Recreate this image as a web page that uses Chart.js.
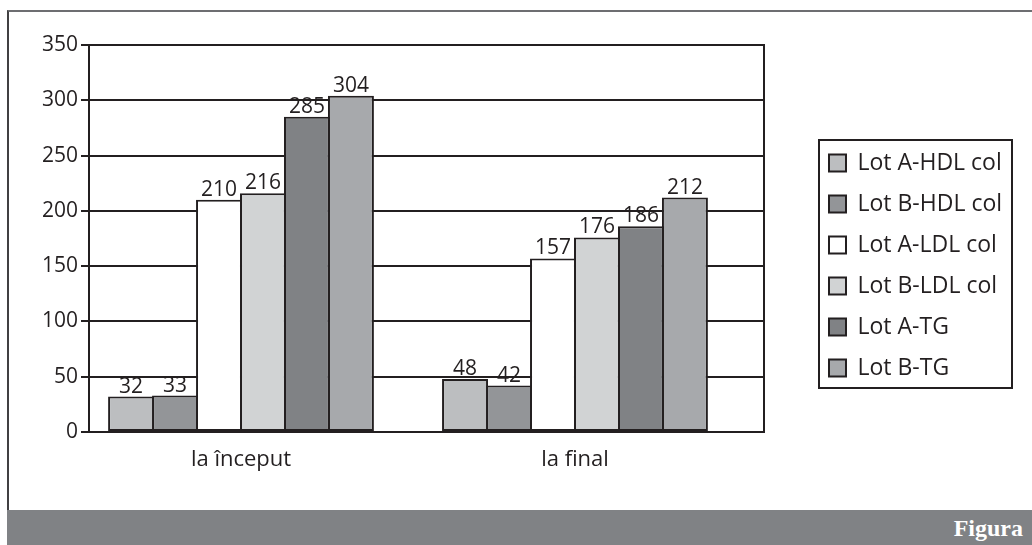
<!DOCTYPE html>
<html>
<head>
<meta charset="utf-8">
<script src="https://cdn.jsdelivr.net/npm/chart.js@4.4.1/dist/chart.umd.min.js"></script>
<style>
  html, body { margin: 0; padding: 0; background: #ffffff; overflow: hidden; }
  body { width: 1032px; height: 545px; position: relative; }
  #frame { position: absolute; left: 7px; top: 10px; width: 1040px; height: 498px;
           border-left: 2px solid #414042; border-top: 2px solid #6d6e71; border-bottom: 2px solid #231f20; }
  #band { position: absolute; left: 7px; top: 510px; width: 1025px; height: 35px; background: #808285;
          color: #ffffff; font-family: "Liberation Serif", serif; font-weight: bold; font-size: 24px;
          line-height: 35px; text-align: right; box-sizing: border-box; padding-right: 9px; padding-top: 1px; }
  #wrap { position: absolute; left: 0; top: 0; width: 1032px; height: 505px; }
</style>
</head>
<body>
<div id="frame"></div>
<div id="band">Figura</div>
<div id="wrap"><canvas id="c" width="1032" height="505"></canvas></div>
<script>
// ---- data ----
const categories = ["la început", "la final"];
const seriesNames = ["Lot A-HDL col", "Lot B-HDL col", "Lot A-LDL col", "Lot B-LDL col", "Lot A-TG", "Lot B-TG"];
const lotA_HDL = [32, 48];
const lotB_HDL = [33, 42];
const lotA_LDL = [210, 157];
const lotB_LDL = [216, 176];
const lotA_TG  = [285, 186];
const lotB_TG  = [304, 212];
const yTicks = [0, 50, 100, 150, 200, 250, 300, 350];

const seriesValues = [lotA_HDL, lotB_HDL, lotA_LDL, lotB_LDL, lotA_TG, lotB_TG];
const seriesColors = ["#bcbec0", "#939598", "#ffffff", "#d1d3d4", "#808285", "#a7a9ac"];
const INK = "#231f20";
const FONT = '"Open Sans", "DejaVu Sans", sans-serif';

const datasets = seriesNames.map((name, s) => ({
  label: name,
  data: seriesValues[s].map((v, i) => ({ x: i, y: v })),
  backgroundColor: seriesColors[s],
  borderColor: INK,
  borderWidth: 2,
  borderSkipped: false,
  categoryPercentage: 0.79,
  barPercentage: 1.045
}));

const valueLabels = {
  id: 'valueLabels',
  afterDatasetsDraw(chart) {
    const ctx = chart.ctx;
    ctx.save();
    ctx.font = '21px ' + FONT;
    ctx.fillStyle = INK;
    ctx.textAlign = 'center';
    ctx.textBaseline = 'alphabetic';
    chart.data.datasets.forEach((ds, i) => {
      const meta = chart.getDatasetMeta(i);
      meta.data.forEach((el, j) => {
        ctx.fillText(String(ds.data[j].y), el.x, el.y - 4);
      });
    });
    ctx.restore();
  }
};

const legendFrame = {
  id: 'legendFrame',
  beforeLayout(chart) {
    const lg = chart.legend;
    if (lg && !lg._fixedW) {
      const orig = lg.fit.bind(lg);
      lg.fit = function () { orig(); this.width = 221; };
      lg._fixedW = true;
    }
  },
  afterDraw(chart) {
    const lg = chart.legend;
    if (!lg) return;
    const ctx = chart.ctx;
    const cy = (lg.top + lg.bottom) / 2;
    ctx.save();
    ctx.strokeStyle = INK;
    ctx.lineWidth = 2;
    ctx.strokeRect(lg.left + 8, cy - 125.5, 193, 248);
    ctx.restore();
  }
};

new Chart(document.getElementById('c'), {
  type: 'bar',
  data: { datasets },
  plugins: [valueLabels, legendFrame],
  options: {
    responsive: false,
    animation: false,
    devicePixelRatio: 1,
    layout: { padding: { top: 45, left: 0, right: 0, bottom: 19 } },
    plugins: {
      tooltip: { enabled: false },
      legend: {
        position: 'right',
        labels: {
          font: { family: FONT, size: 23 },
          color: INK,
          boxWidth: 17,
          boxHeight: 17,
          padding: 18
        }
      }
    },
    scales: {
      x: {
        type: 'linear',
        min: -0.4551,
        max: 1.5659,
        offset: false,
        afterBuildTicks(scale) { scale.ticks = categories.map((c, i) => ({ value: i })); },
        afterFit(scale) { scale.height = 54; },
        ticks: {
          font: { family: FONT, size: 22 },
          color: INK,
          padding: 15,
          maxRotation: 0,
          callback: (v) => categories[v]
        },
        grid: { drawOnChartArea: false, drawTicks: false },
        border: { display: true, color: INK, width: 2 }
      },
      y: {
        min: 0,
        max: 350,
        afterBuildTicks(scale) { scale.ticks = yTicks.map(v => ({ value: v })); },
        afterFit(scale) { scale.width = 89; },
        ticks: { font: { family: FONT, size: 21 }, color: INK, padding: 3 },
        grid: { color: INK, lineWidth: 2, tickLength: 8, drawTicks: true },
        border: { display: true, color: INK, width: 2 }
      },
      y2: {
        position: 'right',
        display: true,
        afterFit(scale) { scale.width = 47; },
        ticks: { display: false },
        grid: { drawOnChartArea: false, drawTicks: false },
        border: { display: true, color: INK, width: 2 }
      }
    }
  }
});
</script>
</body>
</html>
